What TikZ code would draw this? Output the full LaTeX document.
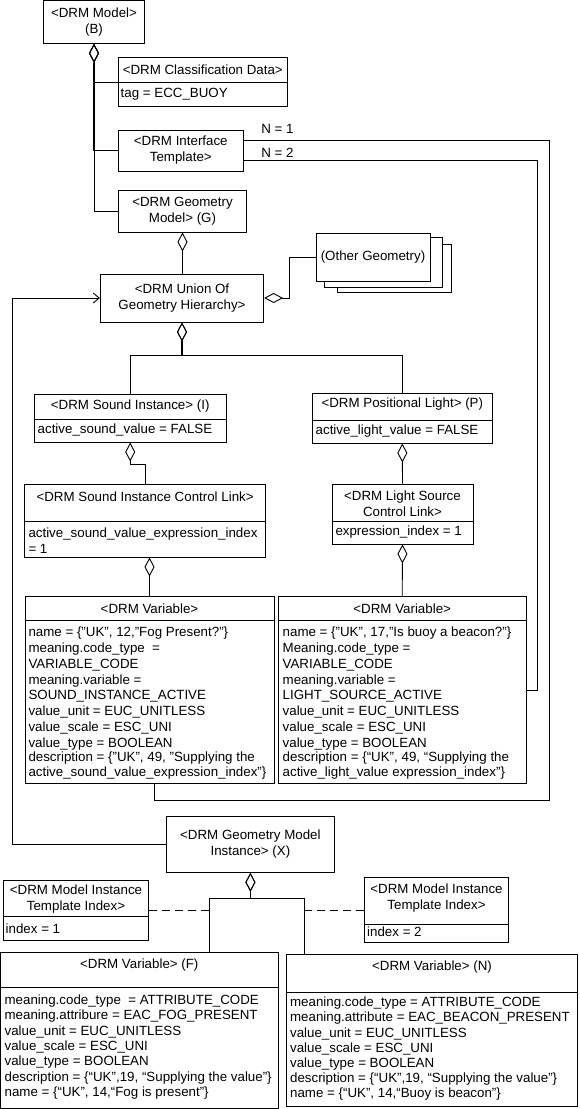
\documentclass[tikz,border=0pt]{standalone}
\usepackage{fontspec}
\setmainfont{Liberation Sans}
\usetikzlibrary{arrows.meta}

\begin{document}
\begin{tikzpicture}[x=1pt, y=-1pt,
    every node/.style={font=\fontsize{13.33}{16}\selectfont, inner sep=0pt},
    box/.style={draw, fill=white, line width=0.9pt},
    attr/.style={anchor=west, align=left},
    conn/.style={line width=0.9pt},
    agg/.style={conn, {Diamond[open, length=19pt, width=10pt]}-},
    inst/.style={conn, -{Straight Barb[length=6pt, width=10pt]}},
    tie/.style={conn, dash pattern=on 8pt off 5pt}]
    \useasboundingbox (0,0) rectangle (579,1109);

    % boxes with one compartment
    \node[box, minimum width=101.4, minimum height=42.8, align=center] (model) at (94,21.9) {<DRM Model>\\(B)};
    \node[box, minimum width=125, minimum height=41, align=center] (iface) at (180.8,150.5) {<DRM Interface\\Template>};
    \node[box, minimum width=128.4, minimum height=42, align=center] (geom) at (182.5,211) {<DRM Geometry\\Model> (G)};
    \node[box, minimum width=114, minimum height=48] (other3) at (394,268) {};
    \node[box, minimum width=118, minimum height=50] (other2) at (383,262) {};
    \node[box, minimum width=114, minimum height=48] (other) at (373,257) {(Other Geometry)};
    \node[box, minimum width=163.3, minimum height=48, align=center] (union) at (182,298) {<DRM Union Of\\Geometry Hierarchy>};
    \node[box, minimum width=168.4, minimum height=55.6, align=center] (gmi) at (250.4,844.5) {<DRM Geometry Model\\Instance> (X)};

    % boxes with two compartments
    \foreach \n/\cx/\cy/\w/\h/\d in {class/202.8/81.85/169/48.3/82, sound/130.2/418/192.4/48/419,
        plight/402.3/418/179.8/50/420, sclink/145.1/520.5/240.8/73/521, lclink/402.5/514/141/60/521,
        varS/149.5/690/249/186.6/620, varL/402.2/690/247.6/186.6/620, tmpl1/76/910.3/144.7/59.3/916,
        tmpl2/436.5/910/144/65.4/924.7, varF/139.3/1030/277.3/156/987.7, varN/432/1030.6/291.7/152.2/992}{
        \node[box, minimum width=\w, minimum height=\h] (\n) at (\cx,\cy) {};
        \draw[conn] (\n.west |- 0,\d) -- (\n.east |- 0,\d);
    }

    \node (class-t) at (202.8,70) {<DRM Classification Data>};
    \node[attr] (class-a) at (120.5,94) {tag = ECC\_BUOY};
    \node (sound-t) at (130.2,405.7) {<DRM Sound Instance> (I)};
    \node[attr] (sound-a) at (37.5,429.8) {active\_sound\_value = FALSE};
    \node (plight-t) at (402.3,404.3) {<DRM Positional Light> (P)};
    \node[attr] (plight-a) at (315.5,430.7) {active\_light\_value = FALSE};
    \node (sclink-t) at (145.1,496.7) {<DRM Sound Instance Control Link>};
    \node[attr] (sclink-a) at (28.3,540.3) {active\_sound\_value\_expression\_index\\= 1};
    \node[align=center] (lclink-t) at (402.5,504.2) {<DRM Light Source\\Control Link>};
    \node[attr] (lclink-a) at (335.3,532) {expression\_index = 1};

    \node (varS-t) at (149.5,608.3) {<DRM Variable>};
    \node[attr, font=\fontsize{13.33}{15.8}\selectfont] (varS-a) at (28.3,703) {name = \{"UK", 12,"Fog Present?"\}\\
        meaning.code\_type~ =\\VARIABLE\_CODE\\meaning.variable =\\SOUND\_INSTANCE\_ACTIVE\\
        value\_unit = EUC\_UNITLESS\\value\_scale = ESC\_UNI\\value\_type = BOOLEAN\\[-1.4pt]
        description = \{"UK", 49, "Supplying the\\[-1.4pt]active\_sound\_value\_expression\_index"\}};
    \node (varL-t) at (402.2,608.3) {<DRM Variable>};
    \node[attr, font=\fontsize{13.33}{15.8}\selectfont] (varL-a) at (282.5,703) {name = \{"UK", 17,"Is buoy a beacon?"\}\\
        Meaning.code\_type =\\VARIABLE\_CODE\\meaning.variable =\\LIGHT\_SOURCE\_ACTIVE\\
        value\_unit = EUC\_UNITLESS\\value\_scale = ESC\_UNI\\value\_type = BOOLEAN\\[-1.4pt]
        description = \{“UK”, 49, “Supplying the\\[-1.4pt]active\_light\_value expression\_index”\}};

    \node[align=center] (tmpl1-t) at (76,899.5) {<DRM Model Instance\\Template Index>};
    \node[attr] (tmpl1-a) at (5.5,928.3) {index = 1};
    \node[align=center] (tmpl2-t) at (436.5,897.7) {<DRM Model Instance\\Template Index>};
    \node[attr] (tmpl2-a) at (367,931.7) {index = 2};

    \node (varF-t) at (139.3,965) {<DRM Variable> (F)};
    \node[attr, font=\fontsize{13.33}{15.4}\selectfont] (varF-a) at (4.4,1047) {meaning.code\_type~ = ATTRIBUTE\_CODE\\
        meaning.attribure = EAC\_FOG\_PRESENT\\value\_unit = EUC\_UNITLESS\\value\_scale = ESC\_UNI\\
        value\_type = BOOLEAN\\description = \{“UK”,19, “Supplying the value”\}\\name = \{“UK”, 14,“Fog is present”\}};
    \node (varN-t) at (432,967.3) {<DRM Variable> (N)};
    \node[attr, font=\fontsize{13.33}{15.2}\selectfont] (varN-a) at (289.9,1048.8) {meaning.code\_type = ATTRIBUTE\_CODE\\
        meaning.attribute = EAC\_BEACON\_PRESENT\\value\_unit = EUC\_UNITLESS\\value\_scale = ESC\_UNI\\
        value\_type = BOOLEAN\\description = \{“UK”,19, “Supplying the value”\}\\name = \{“UK”, 14,“Buoy is beacon”\}};

    \node (n1) at (277.5,129.3) {N = 1};
    \node (n2) at (277.5,153.3) {N = 2};

    % aggregation links
    \draw[agg] (model.south) |- (class.west |- 0,82);
    \draw[agg] (model.south) |- (iface.west);
    \draw[agg] (model.south) |- (geom.west);
    \draw[conn, line width=1.6pt] ([yshift=-19pt]model.south) -- (model.south |- iface.west);
    \draw[agg] (geom.south) -- (geom.south |- union.north);
    \draw[agg] (union.east) -| ([xshift=-26pt]other.west) -- (other.west);
    \draw[agg] (union.south) -- ++(0,33) -| (sound.north);
    \draw[agg] (union.south) -- ++(0,33) -| (plight.north);
    \draw[conn, line width=1.6pt] ([yshift=-19pt]union.south) -- ++(0,14);
    \draw[agg] (sound.south) -- ++(0,22) -| (sclink.north);
    \draw[agg] (varS.north |- sclink.south) -- (varS.north);
    \draw[agg] (plight.south) -- (lclink.north);
    \draw[agg] (lclink.south) -- (varL.north);

    % template links
    \draw[conn] (iface.east |- 0,140) -| (549.3,800) -| ([xshift=4.5pt]varS.south);
    \draw[conn] (iface.east |- 0,160.7) -| (537.7,690) -- (varL.east |- 0,690);

    % instance links
    \draw[inst] (gmi.west) -| (12.7,298) -- (union.west);
    \coordinate (jF) at (209,898.3);
    \coordinate (jN) at (304,898.3);
    \draw[agg] (gmi.south) |- (jF) -- (jF |- varF.north);
    \draw[agg] (gmi.south) |- (jN) -- (jN |- varN.north);
    \draw[tie] (tmpl1.east) -- (jF |- tmpl1.east);
    \draw[tie] (jN |- tmpl2.west) -- (tmpl2.west);
\end{tikzpicture}
\end{document}
